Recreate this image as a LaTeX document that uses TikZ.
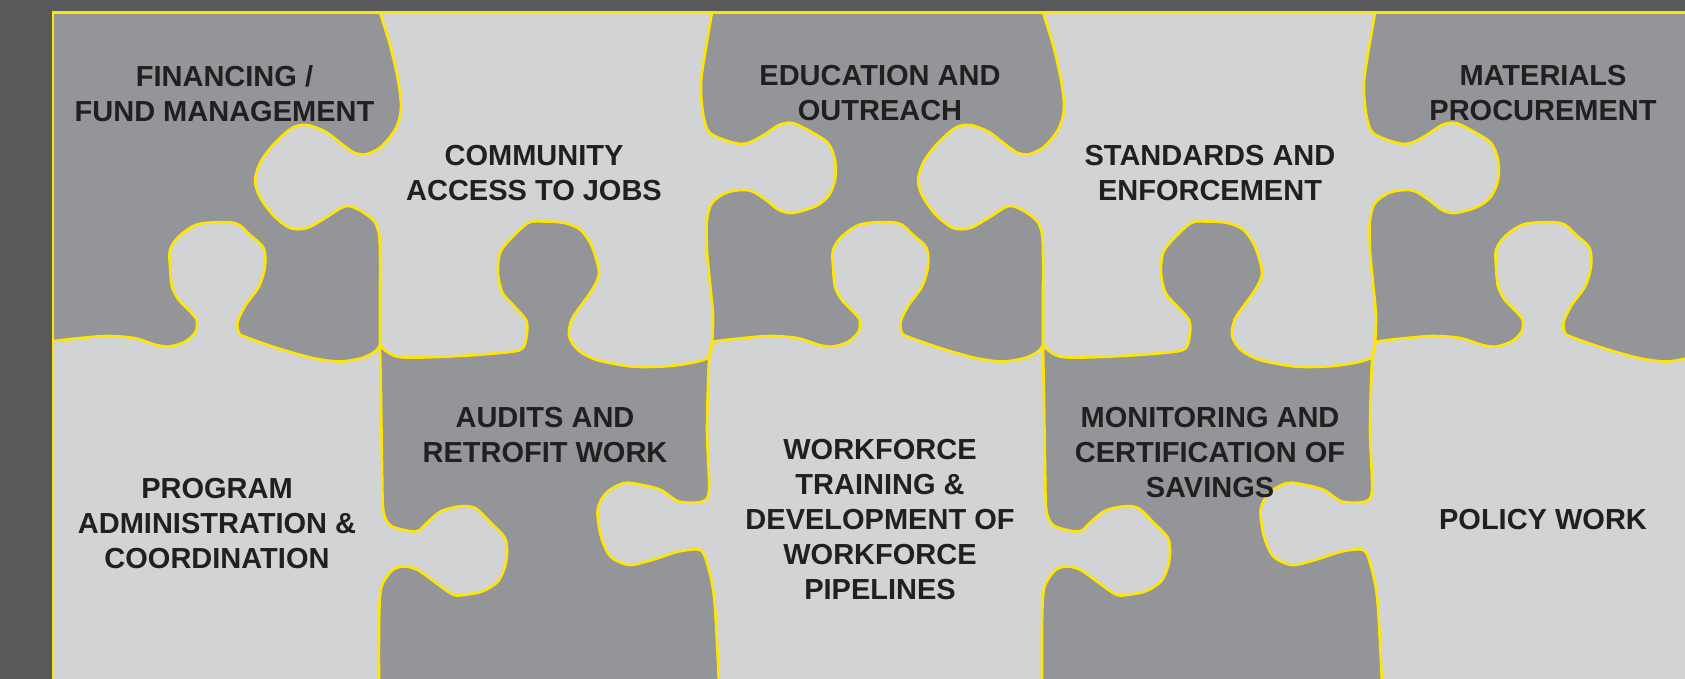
\documentclass[tikz,border=0pt]{standalone}
\usepackage{fontspec}
\setmainfont{Liberation Sans}
\definecolor{outerbg}{HTML}{58595B}
\definecolor{darkpiece}{HTML}{939598}
\definecolor{lightpiece}{HTML}{D1D3D4}
\definecolor{edgeyellow}{HTML}{FFE600}
\definecolor{labeltext}{HTML}{231F20}
\begin{document}
\begin{tikzpicture}[x=1pt,y=-1pt,
  piece/.style={fill=darkpiece, draw=edgeyellow, line width=2.6pt, line join=round},
  frameline/.style={draw=edgeyellow, line width=2.6pt},
  piecetext/.style={align=center, anchor=north, inner sep=0pt, text=labeltext,
    font=\fontsize{29}{35}\selectfont\bfseries},
  % outline pieces of a top-row dark piece (third column)
  eduright/.style={insert path={-- plot[smooth,tension=0.5] coordinates {
    (1043,12.7) (1053,45) (1061,80) (1064,108) (1059,128) (1045,146) (1030,154)
    (1018,153) (1006,145) (989,132) (970,125) (955,128) (936,145) (923,163)
    (918,181) (923,197) (936,215) (953,228) (970,228) (990,217) (1004,208)
    (1012,206) (1024,211) (1037,221) (1042,234) (1043,255) (1043,300) (1043,345)}}},
  edubottom/.style={insert path={-- plot[smooth,tension=0.5] coordinates {
    (1043,345) (1038,351.5) (1024.8,358) (1002.5,361.5) (975.7,358) (940,348)
    (908.7,337) (902,333) (900.7,321.5) (908.7,305) (922,286.5) (928,266.5)
    (926.6,248) (913,235) (897.6,223) (861.9,224) (841.8,236.5) (833,250)
    (833,266.5) (835,286.5) (841.8,300) (853,311.5) (859.6,320) (858.7,331.5)
    (848.5,341.5) (833,346.5) (819.5,345) (797,338) (770,336) (743.6,338)
    (714.5,341.5) (712,345)}}},
  eduleft/.style={insert path={-- plot[smooth,tension=0.5] coordinates {
    (712,345) (713,316) (710,283) (707,250) (707,220) (712,203) (725.7,193)
    (741,190) (752.5,191.5) (766,200) (779,210) (792.7,213) (815,206.5)
    (828,196.5) (835,180) (835,160) (828,143) (810.5,131.5) (792.7,123)
    (779,125) (763.7,135) (748,143) (734.6,143) (710,133) (703,113) (701,83)
    (705.6,50) (712,12.7)}}},
  % outline pieces of a bottom-row dark piece (second column)
  audtop/.style={insert path={-- plot[smooth,tension=0.5] coordinates {
    (380,345) (399,357) (459,356) (509.5,352) (523,348) (527,333) (526,320)
    (514,306) (502.6,293) (498,273) (500,253) (509.5,240) (528,223) (544,221.5)
    (564.6,223) (580.6,230) (592,246.6) (599,273) (592,290) (580.6,306)
    (571.5,320) (569,336) (578,350) (597,360) (633,366.6) (670,366) (698,361.5)
    (709,356.5) (712,345)}}},
  audright/.style={insert path={-- plot[smooth,tension=0.5] coordinates {
    (712,345) (709,360) (707,430) (709,490) (702,501.5) (679,501.5) (661,490)
    (642.6,485) (624,483) (606,493) (597.6,510) (601,536.5) (610.5,556.5)
    (629,565) (652,560) (679,551.5) (700,550) (707,563) (714,596.5) (718,663)
    (719,690)}}},
  audleft/.style={insert path={-- plot[smooth,tension=0.5] coordinates {
    (379,690) (379,630) (380,596.5) (383,583) (392.5,570) (404,566.5)
    (417.7,570) (436,583) (450,593) (459,595.5) (482,591.5) (498,581.5)
    (505,566.5) (507,553) (505,538) (491,523) (475,508) (459,506.5)
    (440.6,511.5) (424.6,525) (421,529) (415.4,531.5) (404,530) (390,525)
    (383.3,510) (382,463) (381,396.6) (380,345)}}}
]
\useasboundingbox (0,0) rectangle (1685,679);
\fill[outerbg] (0,0) rectangle (1685,679);
\fill[lightpiece] (53,12.7) rectangle (1685,679);

\begin{scope}
  \clip (53,12.7) rectangle (1685,679);
  % financing piece (first column, straight left side)
  \begin{scope}[xshift=-663pt]
    \draw[piece] (690,12.7) -- (1043,12.7) [eduright] [edubottom] -- (690,345) -- cycle;
  \end{scope}
  % education piece
  \draw[piece] (712,12.7) -- (1043,12.7) [eduright] [edubottom] [eduleft] -- cycle;
  % materials piece (last column, straight right side)
  \begin{scope}[xshift=663pt]
    \draw[piece] (712,12.7) -- (1100,12.7) -- (1100,345) [edubottom] [eduleft] -- cycle;
  \end{scope}
  % audits piece
  \draw[piece] (380,345) [audtop] [audright] -- (379,690) [audleft] -- cycle;
  % monitoring piece
  \begin{scope}[xshift=663pt]
    \draw[piece] (380,345) [audtop] [audright] -- (379,690) [audleft] -- cycle;
  \end{scope}
\end{scope}

% outer frame
\draw[frameline] (53,700) -- (53,12.7) -- (1700,12.7);

% labels
\node[piecetext] (financing) at (224.5,65) {FINANCING /\\FUND MANAGEMENT};
\node[piecetext] (community) at (534,145) {COMMUNITY\\ACCESS TO JOBS};
\node[piecetext] (education) at (880,65) {EDUCATION AND\\OUTREACH};
\node[piecetext] (standards) at (1210,145) {STANDARDS AND\\ENFORCEMENT};
\node[piecetext] (materials) at (1543,65) {MATERIALS\\PROCUREMENT};
\node[piecetext] (program) at (217,478) {PROGRAM\\ADMINISTRATION \&\\COORDINATION};
\node[piecetext] (audits) at (545,407) {AUDITS AND\\RETROFIT WORK};
\node[piecetext] (workforce) at (880,439.5) {WORKFORCE\\TRAINING \&\\DEVELOPMENT OF\\WORKFORCE\\PIPELINES};
\node[piecetext] (monitoring) at (1210,407.5) {MONITORING AND\\CERTIFICATION OF\\SAVINGS};
\node[piecetext] (policy) at (1543,509.5) {POLICY WORK};
\end{tikzpicture}
\end{document}
